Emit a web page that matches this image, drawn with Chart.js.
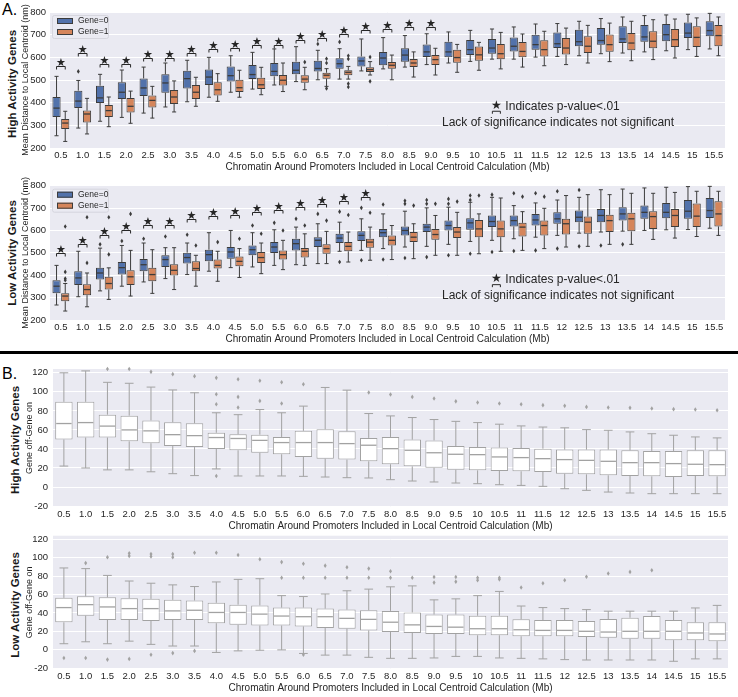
<!DOCTYPE html>
<html>
<head>
<meta charset="utf-8">
<script src="https://cdn.jsdelivr.net/npm/chart.js@4.4.1/dist/chart.umd.min.js"></script>
<style>
  body { margin: 0; background: #fff; width: 738px; height: 697px; position: relative; overflow: hidden;
         font-family: "Liberation Sans", Arial, sans-serif; color: #262626; }
  canvas { position: absolute; left: 0; }
  .tag { position: absolute; font-size: 16px; line-height: 16px; color: #000; }
  .side { position: absolute; width: 200px; height: 14px; line-height: 14px; text-align: center;
          font-weight: bold; font-size: 11.5px; white-space: nowrap; transform: rotate(-90deg); color: #1a1a1a; }
  .rule { position: absolute; left: 0; top: 351px; width: 738px; height: 3px; background: #000; }
</style>
</head>
<body>
<div class="tag" style="left:2px;top:2px">A.</div>
<div class="tag" style="left:2px;top:366px">B.</div>
<div class="side" style="left:-88px;top:77px">High Activity Genes</div>
<div class="side" style="left:-88px;top:246px">Low Activity Genes</div>
<div class="side" style="left:-85px;top:433px">High Activity Genes</div>
<div class="side" style="left:-85px;top:598px">Low Activity Genes</div>
<div class="rule"></div>

<canvas id="a1" width="738" height="176" style="top:0px"></canvas>
<canvas id="a2" width="738" height="172" style="top:176px"></canvas>
<canvas id="b1" width="738" height="179" style="top:356px"></canvas>
<canvas id="b2" width="738" height="172" style="top:525px"></canvas>

<script>
const mbLabels = ['0.5','1.0','1.5','2.0','2.5','3.0','3.5','4.0','4.5','5.0','5.5','6.0','6.5','7.0','7.5','8.0',
  '8.5','9.0','9.5','10','10.5','11','11.5','12','12.5','13','13.5','14','14.5','15','15.5'];
const xTitle = 'Chromatin Around Promoters Included in Local Centroid Calculation (Mb)';

// A, high activity genes: Gene=0
const a1g0Lo  = [254,288,318,335,354,381,404,424,446,460,478,493,501,504,540,549,557,568,575,582,592,592,601,604,607,616,619,624,629,634,637];
const a1g0Q1  = [337,376,399,416,429,444,463,478,493,504,516,525,538,550,560,565,581,601,600,610,616,626,634,641,649,656,663,669,671,685,693];
const a1g0Med = [376,407,421,446,465,487,506,513,519,524,538,543,551,572,584,597,610,624,624,634,641,649,656,660,669,674,681,690,700,707,718];
const a1g0Q3  = [425,453,475,490,507,525,541,546,560,566,575,581,585,596,604,624,640,657,669,676,681,688,700,710,722,729,737,743,747,754,759];
const a1g0Hi  = [516,498,525,544,557,575,587,600,607,622,637,647,631,638,681,687,696,704,712,719,725,734,747,749,759,771,778,784,787,790,794];
const a1g0Out = [[],[538],[],[],[],[],[],[],[],[],[],[],[659],[668],[],[],[],[],[],[],[],[],[],[],[],[],[],[],[],[],[]];
// A, high activity genes: Gene=1
const a1g1Lo  = [229,262,294,309,332,359,384,406,424,435,449,457,472,504,522,501,513,522,534,543,549,557,563,568,575,581,585,590,597,604,607];
const a1g1Q1  = [284,313,337,357,379,394,416,432,447,460,476,488,506,521,535,550,557,566,576,585,592,600,604,612,619,625,631,640,646,646,649];
const a1g1Med = [310,350,365,384,410,425,446,457,466,479,499,504,521,534,546,565,575,590,599,611,616,626,634,641,649,656,663,671,678,688,696];
const a1g1Q3  = [328,365,390,421,432,456,478,490,501,510,522,521,532,543,556,579,593,610,634,648,659,668,675,685,693,701,707,715,725,737,743];
const a1g1Hi  = [362,419,425,451,472,496,512,528,543,556,575,556,550,560,581,610,624,640,657,666,710,703,715,729,741,751,759,766,769,774,778];
const a1g1Out = [[],[],[],[],[],[],[],[],[],[],[],[579],[594,575,463],[607,593,484,469],[601,494],[],[],[],[],[],[],[],[],[],[],[],[],[],[],[],[]];
const a1Sig   = [560,619,572,572,598,598,619,638,641,653,656,675,686,704,719,723,733,733,null,null,null,null,null,null,null,null,null,null,null,null,null];

// A, low activity genes: Gene=0
const a2g0Lo  = [267,304,330,351,370,385,403,418,434,437,444,447,452,507,511,519,526,529,538,551,556,563,570,578,588,593,597,600,603,604,610];
const a2g0Q1  = [319,356,381,403,418,437,452,462,474,489,499,511,526,544,553,570,578,593,600,603,615,618,622,630,637,637,644,652,655,652,656];
const a2g0Med = [351,388,410,434,447,470,479,492,504,514,526,541,556,566,578,590,600,615,622,634,640,644,647,652,659,667,674,681,681,686,689];
const a2g0Q3  = [378,418,433,459,473,489,501,514,526,533,548,563,570,585,597,607,618,630,644,655,667,667,674,681,689,696,704,711,723,736,745];
const a2g0Hi  = [444,507,521,533,544,523,544,590,600,590,603,615,630,637,652,674,686,701,704,726,748,711,723,736,748,782,785,790,793,796,797];
const a2g0Out = [[],[],[538],[553],[563],[573],[581],[],[],[622],[634],[652],[674],[684,459],[701,467],[716,470],[733,719,477],
  [736,719,481],[741,719,489],[756,736,496],[760,504],[766,508],[766,511],[775,519],[781,529],[533],[538],[],[],[],[]];
// A, low activity genes: Gene=1
const a2g1Lo  = [240,259,292,307,319,336,351,373,390,407,425,444,452,459,467,470,474,489,489,496,507,511,519,526,529,538,538,560,566,573,578];
const a2g1Q1  = [284,311,336,356,373,399,418,430,440,455,470,479,496,507,523,533,548,559,566,570,570,573,578,582,585,593,596,607,615,615,618];
const a2g1Med = [307,336,363,393,403,422,430,444,462,479,492,507,519,529,548,556,570,582,593,607,607,615,622,630,637,644,652,662,667,664,674];
const a2g1Q3  = [319,360,393,422,433,449,462,470,484,504,511,522,538,548,563,578,593,607,615,647,644,634,644,652,662,670,679,686,696,721,730];
const a2g1Hi  = [363,410,433,511,514,523,489,507,519,544,556,585,596,593,615,622,630,667,681,674,745,684,699,756,760,760,766,766,770,775,775];
const a2g1Out = [[618,415,385,378],[659,455],[659,493],[674],[],[],[533],[548],[563],[585],[600],[622],[644],[669],[679],[],[711],
  [719],[729],[756],[],[751],[751],[],[],[],[],[],[],[],[]];
const a2Sig   = [501,538,578,601,626,626,649,663,668,683,690,705,718,733,748,null,null,null,null,null,null,null,null,null,null,null,null,null,null,null,null];

// B, high activity genes
const b1Lo  = [22,20,18,18,16,14,12,19,11.6,11.6,11.6,11.2,10.5,9.8,9.5,7.7,6.3,5.3,4.2,3.5,2.4,1.7,0.7,-1.8,-3.5,-5.3,-6.3,-7,-7,-7,-7];
const b1Q1  = [50,52,52,48,46,43,42,40,38.6,36,34.4,31.6,29.8,28.8,27,23.9,21.7,20.3,18.2,17.5,16.8,16.5,15.8,14,13.3,12.3,11.6,11.2,10.5,11.6,11.2];
const b1Med = [66.7,67.7,64,60,59,55,54,52,51,49,46.7,46.7,46.7,45.6,43.9,40.3,38.6,36,34.4,34,31.6,30.9,29.8,28.8,28,27,25.6,25.6,24.6,23.9,23.5];
const b1Q3  = [89.5,89.5,76,75,70,68,67,57,55.4,55,52.6,59,60.7,58.6,51.6,52.6,49.8,49,43,42,41.4,41,40.3,39.3,39.3,39.3,38.6,37.9,37.9,38.6,38.6];
const b1Hi  = [120,122,110,109,105,102,99,78,76,81.4,78,85,104.6,101.8,77.2,74.7,73,70.9,69,67.7,66,64.2,63,62.2,60.3,59.6,57.9,56,54.4,52.6,51.6];
const b1Out = [[],[],[124],[124],[121],[118.6],[116.5],[114.7,97.5,87,11.6],[113.3,94.7,83.5],[111.6,90.5],[110,87.7],[108],[],[],[99.3],
  [97.2],[94.7],[93],[90],[88.8],[87.7],[87],[86],[85.3],[84.2],[83.5],[83.2],[82.5],[81.8],[81.4],[80.7]];

// B, low activity genes
const b2Lo  = [6.5,8.6,6.5,9.3,5.8,4,4,-3,-1.3,-0.6,-0.2,-4.1,-5.9,-5.9,-8.3,-9.4,-9.4,-9,-7.3,-7.3,-9,-9.4,-10,-10.8,-11.2,-11.2,-11.2,-11.2,-12.6,-10,-10];
const b2Q1  = [29.8,37,32.3,32.3,31.3,32.3,32.3,28.8,27,26.3,26.3,25.3,23.5,22.8,21,19.2,18.2,17.1,17.1,15.7,15.7,14.6,14.6,14.6,13.9,12.9,11.8,11.8,10.4,10.4,9.3];
const b2Med = [45.8,49,46.5,44.7,44.7,42.2,42.9,40.5,40.5,38.7,36.6,35.9,35.9,34.1,33,29.9,27,25.3,24.5,22.8,22.8,21.7,21,21,20,19.2,20,20,20,18.2,17.1];
const b2Q3  = [56.4,58.1,57,56,55.3,54.2,53.5,51,49,48.2,45.8,45.8,44.7,43.6,42.9,42.2,40.5,38.3,38.3,36.9,36.9,33,32.3,32.3,31.3,33.4,34.8,36.6,32.3,29.8,29.8];
const b2Hi  = [88.9,88.2,80.8,74.7,72.3,70.5,68.7,73.7,76.5,77.2,58.8,57.8,60.6,64.1,65.9,68.4,69.4,54.2,55.3,58.8,63.4,47.5,45.8,44.7,43.6,41.9,41.9,41.9,41.9,45.4,48.2];
const b2Out = [[-9],[94.2,-9],[100.6,-10.8],[104.8,102,-10],[104,101.3,-5.5],[104,100.6,-3.7],[105.5,-1.3],[105.5],[103],[98.4],[95.3,78.3],
  [93.5,78.3,-5.5],[91.4,78.3],[89.6,78.3],[88.2,78.3],[85.4,78.3],[78.3],[79,73],[79,74],[78.3,75.5],[78.3,76.5],[67.7],[72.3],[75.5],
  [79.3],[82.9],[84.6],[86.4],[],[],[]];

const aTicks = [200,300,400,500,600,700,800];
const bTicks = [-20,0,20,40,60,80,100,120];

const BLUE = '#5272ab', ORANGE = '#d5855b', DARK = '#3c3c3c', LIGHT = '#a2a2a2';
Chart.defaults.font.family = '"Liberation Sans", Arial, sans-serif';
Chart.defaults.color = '#262626';

function boxSet(label, lo, q1, med, q3, hi, out, fill, edge, barPct) {
  return {
    label: label,
    data: q1.map((v, i) => [v, q3[i]]),
    lo: lo, med: med, hi: hi, out: out, edge: edge,
    backgroundColor: fill, borderColor: edge, borderWidth: 1, borderSkipped: false,
    categoryPercentage: 0.8, barPercentage: barPct
  };
}

// whiskers, medians, fliers, background, legend and significance marks
const boxParts = {
  id: 'boxParts',
  beforeDraw(chart) {
    const a = chart.chartArea, ctx = chart.ctx;
    ctx.save();
    ctx.fillStyle = '#EAEAF2';
    ctx.fillRect(a.left, a.top, a.right - a.left, a.bottom - a.top);
    ctx.restore();
  },
  afterDatasetsDraw(chart) {
    const ctx = chart.ctx, ys = chart.scales.y;
    chart.data.datasets.forEach((ds, di) => {
      chart.getDatasetMeta(di).data.forEach((bar, i) => {
        const x = bar.x, w = bar.width;
        const p = v => ys.getPixelForValue(v);
        ctx.save();
        ctx.strokeStyle = ds.edge;
        ctx.lineWidth = 1;
        ctx.beginPath();
        ctx.moveTo(x, p(ds.data[i][1])); ctx.lineTo(x, p(ds.hi[i]));
        ctx.moveTo(x - w / 4, p(ds.hi[i])); ctx.lineTo(x + w / 4, p(ds.hi[i]));
        ctx.moveTo(x, p(ds.data[i][0])); ctx.lineTo(x, p(ds.lo[i]));
        ctx.moveTo(x - w / 4, p(ds.lo[i])); ctx.lineTo(x + w / 4, p(ds.lo[i]));
        ctx.stroke();
        ctx.lineWidth = 1.3;
        ctx.beginPath();
        ctx.moveTo(x - w / 2 + 1, p(ds.med[i])); ctx.lineTo(x + w / 2 - 1, p(ds.med[i]));
        ctx.stroke();
        ctx.fillStyle = ds.edge;
        ds.out[i].forEach(v => {
          const yy = p(v);
          ctx.beginPath();
          ctx.moveTo(x, yy - 2.3); ctx.lineTo(x + 1.5, yy); ctx.lineTo(x, yy + 2.3); ctx.lineTo(x - 1.5, yy);
          ctx.closePath(); ctx.fill();
        });
        ctx.restore();
      });
    });
    const opt = chart.options.plugins.boxParts || {};
    if (opt.sig) {
      const m0 = chart.getDatasetMeta(0).data, m1 = chart.getDatasetMeta(1).data;
      ctx.save();
      ctx.strokeStyle = '#262626'; ctx.fillStyle = '#262626'; ctx.lineWidth = 1;
      opt.sig.forEach((v, i) => {
        if (v === null) return;
        const yy = Math.round(ys.getPixelForValue(v)) + 0.5;
        const x0 = m0[i].x, x1 = m1[i].x;
        ctx.beginPath();
        ctx.moveTo(x0, yy + 3); ctx.lineTo(x0, yy); ctx.lineTo(x1, yy); ctx.lineTo(x1, yy + 3);
        ctx.stroke();
        ctx.font = '11px "DejaVu Sans"';
        ctx.textAlign = 'center'; ctx.textBaseline = 'alphabetic';
        ctx.fillText('\u2605', (x0 + x1) / 2, yy - 1);
      });
      ctx.restore();
    }
  },
  afterDraw(chart) {
    const opt = chart.options.plugins.boxParts || {};
    const ctx = chart.ctx, a = chart.chartArea;
    if (opt.legend) {
      ctx.save();
      ctx.fillStyle = 'rgba(234,234,242,0.85)';
      ctx.strokeStyle = '#d6d6de';
      ctx.lineWidth = 1;
      ctx.beginPath();
      ctx.roundRect(a.left + 2.5, a.top + 3.5, 56, 23, 2);
      ctx.fill(); ctx.stroke();
      chart.data.datasets.forEach((ds, k) => {
        const yy = a.top + 9 + k * 11;
        ctx.fillStyle = ds.backgroundColor;
        ctx.strokeStyle = ds.edge;
        ctx.fillRect(a.left + 7, yy - 3, 16, 6);
        ctx.strokeRect(a.left + 7.5, yy - 2.5, 15, 5);
        ctx.fillStyle = '#262626';
        ctx.font = '8.5px "Liberation Sans", Arial';
        ctx.textAlign = 'left'; ctx.textBaseline = 'middle';
        ctx.fillText(ds.label, a.left + 28, yy);
      });
      ctx.restore();
    }
    if (opt.note) {
      const xs = chart.scales.x, ys = chart.scales.y;
      const sx = xs.getPixelForValue(20), sy = ys.getPixelForValue(opt.note[0]);
      ctx.save();
      ctx.fillStyle = '#262626'; ctx.strokeStyle = '#262626'; ctx.lineWidth = 1;
      ctx.font = '12px "DejaVu Sans"';
      ctx.textAlign = 'center'; ctx.textBaseline = 'middle';
      ctx.fillText('\u2605', sx, sy - 1);
      ctx.beginPath();
      ctx.moveTo(sx - 4, sy + 7); ctx.lineTo(sx - 4, sy + 4.5); ctx.lineTo(sx + 4, sy + 4.5); ctx.lineTo(sx + 4, sy + 7);
      ctx.stroke();
      ctx.font = '12px "Liberation Sans", Arial';
      ctx.textAlign = 'left';
      ctx.fillText('Indicates p-value<.01', sx + 9, sy);
      ctx.fillText('Lack of significance indicates not significant', a.left + 392, ys.getPixelForValue(opt.note[1]));
      ctx.restore();
    }
  }
};

function scalesFor(min, max, ticks, yTitle, yWidth, tickPad) {
  return {
    x: {
      grid: { display: false, drawTicks: false }, border: { display: false },
      ticks: { color: '#262626', font: { size: 9.5 }, padding: 2, maxRotation: 0, autoSkip: false },
      title: { display: true, text: xTitle, color: '#262626', font: { size: 10 }, padding: { top: 0, bottom: 3 } },
      afterFit(s) { s.height = 28; }
    },
    y: {
      min: min, max: max,
      grid: { color: '#ffffff', lineWidth: 1, drawTicks: false }, border: { display: false },
      ticks: { color: '#262626', font: { size: 9.5 }, padding: tickPad },
      afterBuildTicks(s) { s.ticks = ticks.map(v => ({ value: v })); },
      title: { display: true, text: yTitle, color: '#262626', font: { size: 9 }, padding: 0 },
      afterFit(s) { s.width = yWidth; }
    }
  };
}

function makeChart(id, datasets, scales, padding, extra) {
  new Chart(document.getElementById(id), {
    type: 'bar',
    data: { labels: mbLabels, datasets: datasets },
    options: {
      responsive: false, animation: false,
      layout: { padding: padding },
      plugins: { legend: { display: false }, tooltip: { enabled: false }, boxParts: extra },
      scales: scales
    },
    plugins: [boxParts]
  });
}

const distTitle = 'Mean Distance to Local Centroid (nm)';
makeChart('a1', [
    boxSet('Gene=0', a1g0Lo, a1g0Q1, a1g0Med, a1g0Q3, a1g0Hi, a1g0Out, BLUE, DARK, 0.94),
    boxSet('Gene=1', a1g1Lo, a1g1Q1, a1g1Med, a1g1Q3, a1g1Hi, a1g1Out, ORANGE, DARK, 0.94)
  ], scalesFor(200, 800, aTicks, distTitle, 30, 4),
  { left: 20, top: 12, right: 13, bottom: 0 },
  { legend: true, sig: a1Sig, note: [382, 312] });

makeChart('a2', [
    boxSet('Gene=0', a2g0Lo, a2g0Q1, a2g0Med, a2g0Q3, a2g0Hi, a2g0Out, BLUE, DARK, 0.94),
    boxSet('Gene=1', a2g1Lo, a2g1Q1, a2g1Med, a2g1Q3, a2g1Hi, a2g1Out, ORANGE, DARK, 0.94)
  ], scalesFor(200, 800, aTicks, distTitle, 30, 4),
  { left: 20, top: 8, right: 13, bottom: 0 },
  { legend: true, sig: a2Sig, note: [378, 307] });

makeChart('b1', [
    boxSet('High', b1Lo, b1Q1, b1Med, b1Q3, b1Hi, b1Out, '#ffffff', LIGHT, 1)
  ], scalesFor(-21, 124, bTicks, 'Gene off-Gene on', 29, 5),
  { left: 24, top: 13, right: 10, bottom: 0 }, {});

makeChart('b2', [
    boxSet('Low', b2Lo, b2Q1, b2Med, b2Q3, b2Hi, b2Out, '#ffffff', LIGHT, 1)
  ], scalesFor(-21, 124, bTicks, 'Gene off-Gene on', 29, 5),
  { left: 24, top: 8, right: 10, bottom: 0 }, {});
</script>
</body>
</html>
